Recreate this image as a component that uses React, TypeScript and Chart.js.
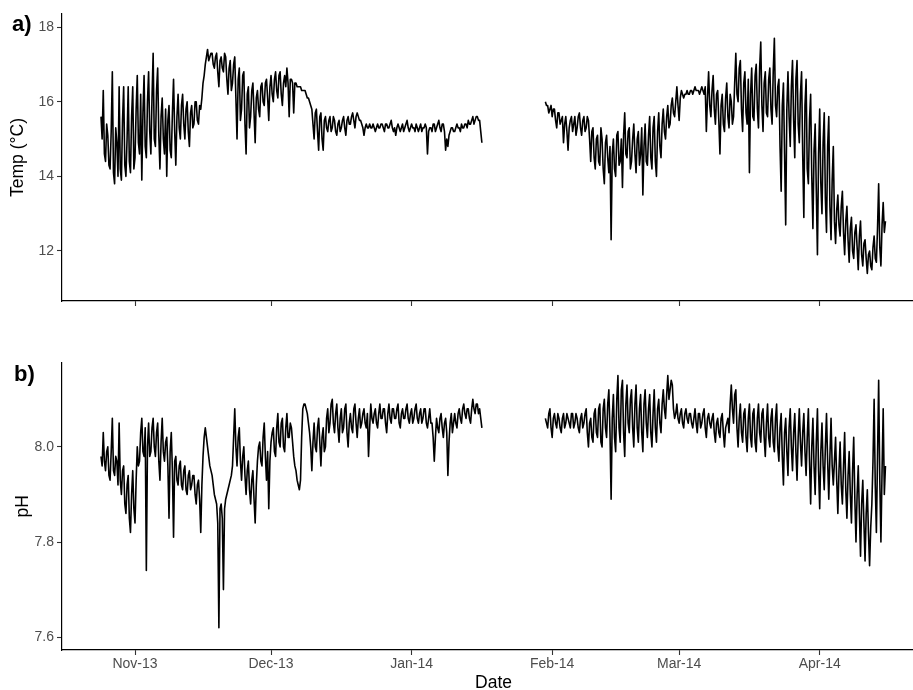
import React, { useEffect, useRef } from "react";
import { Chart, registerables } from "chart.js";

Chart.register(...registerables);

// ---------- data ----------
const SAMPLE_HOURS = 6;
const ORIGIN = Date.UTC(2013, 10, 1);
const SEG1_START = Date.UTC(2013, 9, 24, 12);
const SEG2_START = Date.UTC(2014, 0, 30, 12);

const MONTH_TICKS = [
  Date.UTC(2013, 10, 1),
  Date.UTC(2013, 11, 1),
  Date.UTC(2014, 0, 1),
  Date.UTC(2014, 1, 1),
  Date.UTC(2014, 2, 1),
  Date.UTC(2014, 3, 1),
];
const MONTH_LABELS = ["Nov-13", "Dec-13", "Jan-14", "Feb-14", "Mar-14", "Apr-14"];
const TEMP_TICKS = [12, 14, 16, 18];
const PH_TICKS = [7.6, 7.8, 8.0];

const TEMP_SEG1 = [
  15.6,15.0,16.3,14.6,14.4,15.4,15.1,14.3,14.2,15.2,16.8,14.1,13.8,15.3,14.9,14.0,16.4,14.2,13.9,15.5,
  16.4,14.3,14.0,15.0,16.4,14.4,14.1,15.6,16.4,14.2,14.5,15.8,16.7,14.9,14.6,16.2,13.9,15.7,16.7,14.8,
  14.5,16.0,16.8,15.2,14.6,16.1,17.3,15.0,14.8,16.3,16.9,15.1,14.2,15.6,16.1,15.0,14.6,15.8,14.0,15.5,
  15.9,14.7,14.5,15.7,16.6,15.2,14.3,15.6,16.2,15.3,15.0,15.9,16.2,15.4,15.0,15.8,16.0,15.2,14.8,15.7,
  15.9,15.3,15.4,16.0,16.0,15.5,15.4,15.9,15.8,16.1,16.5,16.7,17.0,17.2,17.4,17.1,17.2,17.3,17.3,17.0,
  16.9,17.2,17.3,16.8,16.4,17.1,17.2,16.9,16.8,17.3,17.2,16.6,16.2,16.9,17.1,16.3,16.5,17.0,17.2,16.1,
  15.0,16.6,16.9,15.5,15.8,16.7,16.8,15.4,14.6,16.2,16.4,15.3,15.6,16.3,16.5,15.7,14.9,16.1,16.3,15.8,
  15.6,16.4,16.5,16.0,15.9,16.5,16.6,16.1,15.5,16.4,16.7,16.2,16.0,16.6,16.8,16.3,16.1,16.7,16.8,16.2,
  15.9,16.5,16.7,16.4,16.9,16.5,15.6,16.6,16.6,16.5,15.7,16.5,16.5,16.4,16.4,16.4,16.4,16.3,16.3,16.3,
  16.3,16.2,16.1,16.1,16.0,15.9,15.8,15.4,15.0,15.7,15.8,15.2,14.7,15.6,15.7,15.0,14.7,15.5,15.6,15.3,
  15.2,15.5,15.6,15.2,15.3,15.6,15.5,15.2,15.1,15.4,15.5,15.2,15.3,15.5,15.6,15.3,15.1,15.5,15.6,15.4,
  15.4,15.6,15.7,15.5,15.3,15.6,15.7,15.6,15.5,15.5,15.4,15.3,15.1,15.3,15.4,15.3,15.3,15.4,15.3,15.3,
  15.4,15.3,15.2,15.3,15.4,15.3,15.3,15.4,15.4,15.3,15.2,15.4,15.4,15.3,15.3,15.4,15.5,15.3,15.2,15.3,
  15.1,15.3,15.4,15.3,15.2,15.3,15.4,15.2,15.3,15.4,15.5,15.3,15.2,15.3,15.4,15.3,15.3,15.2,15.4,15.3,
  15.2,15.3,15.4,15.2,15.3,15.3,15.4,15.3,14.6,15.2,15.3,15.3,15.2,15.4,15.4,15.2,15.3,15.4,15.5,15.3,
  15.2,15.4,15.4,15.2,14.7,15.0,14.8,15.1,15.2,15.3,15.3,15.2,15.2,15.3,15.4,15.3,15.3,15.2,15.4,15.3,
  15.3,15.4,15.4,15.3,15.5,15.4,15.4,15.5,15.6,15.4,15.5,15.6,15.6,15.5,15.5,15.2,14.9,
];

const TEMP_SEG2 = [
  16.0,15.9,15.9,15.7,15.8,15.9,15.6,15.8,15.8,15.5,15.3,15.7,15.7,15.4,15.5,15.6,14.9,15.4,15.6,15.2,
  14.7,15.3,15.5,15.6,15.2,15.4,15.6,15.1,15.3,15.6,15.7,15.3,15.1,15.5,15.6,15.2,15.3,15.6,15.5,15.0,
  14.4,15.2,15.3,14.5,14.2,15.0,15.1,14.4,14.3,15.3,15.0,14.2,13.8,14.9,15.1,14.5,14.1,14.8,12.3,14.6,
  15.0,14.2,14.0,15.1,15.2,14.3,14.4,15.0,13.7,15.1,15.7,14.6,14.5,15.2,15.3,14.2,14.4,15.0,15.4,14.6,
  14.1,15.0,15.2,14.3,14.6,15.3,13.5,14.8,15.4,14.4,14.3,15.1,15.6,14.5,14.2,15.3,15.6,14.4,14.0,15.2,
  15.7,14.8,14.5,15.4,15.8,15.2,15.0,15.6,15.9,15.3,15.4,15.9,16.1,15.7,15.6,16.0,16.4,15.9,15.5,16.1,
  16.3,16.2,16.1,16.2,16.2,16.3,16.2,16.2,16.3,16.3,16.2,16.3,16.4,16.3,16.3,16.3,16.2,16.3,16.4,16.3,
  16.2,16.4,15.2,16.1,16.8,15.9,15.6,16.3,16.7,15.8,15.4,16.2,16.3,15.5,14.6,15.9,16.2,15.4,15.2,16.1,
  16.5,15.6,15.3,16.2,16.0,15.4,15.6,16.5,17.3,16.2,16.0,16.9,17.1,15.8,15.2,16.5,16.8,15.7,15.4,16.6,
  14.1,16.2,16.9,15.6,15.5,16.7,17.0,15.8,15.3,16.9,17.6,15.9,15.2,16.5,16.8,15.7,15.6,16.6,16.9,15.8,
  15.4,16.8,17.7,15.9,15.6,16.4,16.6,14.8,13.6,15.9,16.5,14.6,12.7,15.8,16.8,15.6,14.8,16.4,17.1,15.5,
  14.5,16.6,17.1,15.4,14.9,16.2,16.8,14.6,12.9,15.9,16.6,14.2,13.8,15.5,16.2,14.0,12.6,14.7,15.4,13.6,
  11.9,14.6,15.8,13.8,13.0,14.9,15.7,13.4,12.5,14.8,15.6,13.2,12.3,13.9,14.8,12.8,12.2,13.1,13.5,12.7,
  12.4,13.2,13.6,12.5,11.9,12.8,13.2,12.3,11.7,12.6,12.9,12.0,11.8,12.5,12.7,12.1,11.5,12.4,12.8,11.9,
  11.6,12.2,12.3,11.8,11.4,11.9,12.0,11.6,11.5,12.1,12.4,11.8,11.7,12.6,13.8,12.1,11.6,12.7,13.3,12.5,
  12.8,
];

const PH_SEG1 = [
  7.98,7.96,8.03,7.97,7.95,7.99,8.00,7.94,7.93,7.99,8.06,7.95,7.94,7.98,7.97,7.92,8.05,7.93,7.90,7.95,
  7.96,7.88,7.86,7.92,7.94,7.85,7.82,7.90,7.95,7.87,7.84,7.93,8.00,7.96,7.97,8.03,8.06,7.99,7.98,8.04,
  7.74,8.00,8.05,7.98,7.99,8.04,8.06,8.00,7.98,8.03,8.05,7.97,7.93,8.01,8.06,7.99,7.97,8.01,8.02,7.96,
  7.85,7.99,8.03,7.95,7.81,7.97,7.98,7.93,7.92,7.96,7.97,7.92,7.91,7.95,7.96,7.91,7.90,7.94,7.95,7.91,
  7.92,7.94,7.94,7.90,7.88,7.92,7.93,7.89,7.82,7.92,7.98,8.02,8.04,8.02,8.00,7.98,7.96,7.95,7.94,7.92,
  7.90,7.89,7.88,7.84,7.62,7.87,7.88,7.85,7.70,7.87,7.89,7.90,7.91,7.92,7.93,7.94,7.96,8.02,8.08,8.00,
  7.96,8.02,8.04,7.97,7.93,7.98,8.00,7.94,7.90,7.95,7.97,7.91,7.88,7.93,7.95,7.89,7.84,7.92,7.97,8.00,
  8.01,7.97,7.96,8.02,8.05,7.98,7.93,7.99,7.87,7.97,8.01,8.03,8.04,7.99,7.98,8.04,8.07,8.01,8.00,8.05,
  8.06,8.00,7.99,8.04,8.07,8.02,8.02,8.05,8.04,8.01,7.98,7.96,7.95,7.93,7.92,7.91,7.93,8.02,8.08,8.09,
  8.09,8.08,8.07,8.05,8.03,8.00,7.95,8.01,8.05,8.00,7.99,8.04,8.06,8.01,7.96,8.02,8.04,7.99,8.00,8.06,
  8.08,8.03,8.05,8.09,8.10,8.05,8.03,8.07,8.09,8.04,8.01,8.06,8.08,8.03,8.04,8.08,8.09,8.03,8.00,8.05,
  8.07,8.04,8.03,8.08,8.09,8.05,8.02,8.06,8.08,8.04,8.05,8.07,8.08,8.05,8.04,8.07,7.98,8.04,8.09,8.06,
  8.05,8.07,8.08,8.05,8.04,8.07,8.09,8.06,8.06,8.08,8.08,8.05,8.03,8.07,8.09,8.06,8.05,8.08,8.08,8.06,
  8.06,8.08,8.09,8.05,8.04,8.07,8.08,8.06,8.06,8.08,8.09,8.06,8.05,8.07,8.08,8.05,8.06,8.08,8.09,8.06,
  8.05,8.07,8.08,8.05,8.06,8.08,8.08,8.05,8.04,8.06,8.08,8.05,8.05,8.02,7.97,8.02,8.06,8.04,8.03,8.06,
  8.07,8.04,8.02,8.05,8.06,8.03,7.94,8.01,8.05,8.07,8.03,8.05,8.07,8.05,8.04,8.07,8.08,8.06,8.05,8.08,
  8.09,8.07,8.06,8.08,8.08,8.06,8.05,8.08,8.10,8.08,8.07,8.09,8.09,8.07,8.08,8.06,8.04,
];

const PH_SEG2 = [
  8.06,8.05,8.04,8.07,8.08,8.04,8.02,8.06,8.07,8.05,8.04,8.07,8.06,8.04,8.03,8.06,8.07,8.04,8.05,8.07,
  8.06,8.05,8.04,8.07,8.07,8.04,8.05,8.07,8.06,8.04,8.03,8.06,8.07,8.04,8.05,8.07,8.08,8.03,8.00,8.05,
  8.06,8.02,8.01,8.07,8.08,8.03,8.02,8.08,8.09,8.01,8.00,8.08,8.10,8.04,8.02,8.09,8.12,8.03,7.89,8.06,
  8.11,8.02,7.99,8.10,8.15,8.04,8.01,8.12,8.14,8.03,7.98,8.09,8.13,8.05,8.03,8.10,8.12,8.04,8.00,8.09,
  8.13,8.04,8.01,8.08,8.11,8.03,7.99,8.09,8.12,8.05,8.02,8.08,8.11,8.03,8.00,8.07,8.12,8.04,8.01,8.08,
  8.10,8.05,8.03,8.09,8.12,8.08,8.06,8.11,8.15,8.10,8.12,8.14,8.13,8.08,8.06,8.07,8.09,8.06,8.05,8.07,
  8.08,8.05,8.04,8.07,8.08,8.06,8.05,8.07,8.07,8.05,8.04,8.06,8.08,8.05,8.03,8.07,8.07,8.04,8.05,8.07,
  8.08,8.04,8.02,8.06,8.07,8.05,8.04,8.06,8.07,8.03,8.01,8.05,8.06,8.03,8.02,8.06,8.07,8.03,8.00,8.04,
  8.05,8.06,8.03,8.09,8.13,8.08,8.05,8.11,8.12,8.04,8.00,8.06,8.09,8.03,8.01,8.07,8.08,8.02,7.99,8.06,
  8.09,8.02,8.00,8.07,8.08,8.01,7.99,8.06,8.09,8.03,8.01,8.07,8.08,8.02,7.98,8.05,8.09,8.02,8.00,8.06,
  8.08,8.01,7.99,8.06,8.09,8.00,7.97,8.04,8.07,7.98,7.92,8.03,8.06,7.99,7.94,8.04,8.08,8.00,7.95,8.03,
  8.07,7.99,7.93,8.02,8.08,8.01,7.96,8.03,8.07,7.99,7.94,8.02,8.08,7.97,7.88,8.00,8.06,7.96,7.90,8.01,
  8.08,7.95,7.87,7.99,8.05,7.96,7.91,8.00,8.07,7.97,7.89,7.98,8.06,7.96,7.92,7.97,8.02,7.93,7.86,7.95,
  8.01,7.92,7.88,7.96,8.03,7.91,7.85,7.94,7.99,7.90,7.84,7.95,8.02,7.89,7.80,7.90,7.96,7.86,7.77,7.88,
  7.93,7.84,7.76,7.86,7.91,7.82,7.75,7.83,7.88,7.97,8.10,7.92,7.82,7.98,8.14,7.93,7.80,7.95,8.08,7.90,
  7.96,
];

// ---------- helpers ----------
const DAY_MS = 86400000;
const toDay = (t: number) => (t - ORIGIN) / DAY_MS;

function buildSeries(seg1: number[], seg2: number[]) {
  const pts: { x: number; y: number | null }[] = [];
  const step = SAMPLE_HOURS * 3600000;
  seg1.forEach((v, i) => pts.push({ x: toDay(SEG1_START + i * step), y: v }));
  const gapX = (toDay(SEG1_START + (seg1.length - 1) * step) + toDay(SEG2_START)) / 2;
  pts.push({ x: gapX, y: null });
  seg2.forEach((v, i) => pts.push({ x: toDay(SEG2_START + i * step), y: v }));
  return pts;
}

const FONT = '"Liberation Sans", Arial, Helvetica, sans-serif';
const X_MIN = -16.1;
const X_MAX = 174.22;

const panelTag = {
  id: "panelTag",
  afterDraw(chart: any, _args: any, opts: any) {
    const ctx = chart.ctx;
    ctx.save();
    ctx.font = `bold ${opts.size}px ${FONT}`;
    ctx.fillStyle = "#000";
    ctx.textBaseline = "alphabetic";
    ctx.textAlign = "left";
    ctx.fillText(opts.text, opts.x, opts.y);
    ctx.restore();
  },
};

function makeConfig(p: {
  data: { x: number; y: number | null }[];
  yMin: number;
  yMax: number;
  yTicks: number[];
  yFmt: (v: number) => string;
  yTitle: string;
  yTitlePad: number;
  padTop: number;
  xHeight: number;
  showXLabels: boolean;
  tag: string;
  tagX: number;
  tagY: number;
}) {
  return {
    type: "line",
    data: {
      datasets: [
        {
          data: p.data,
          borderColor: "#000000",
          borderWidth: 1.6,
          pointRadius: 0,
          pointHoverRadius: 0,
          tension: 0,
          fill: false,
          spanGaps: false,
          borderJoinStyle: "round",
        },
      ],
    },
    options: {
      animation: false,
      responsive: false,
      maintainAspectRatio: false,
      events: [],
      layout: { padding: { top: p.padTop, left: 0, right: 0, bottom: 0 } },
      plugins: {
        legend: { display: false },
        tooltip: { enabled: false },
        panelTag: { text: p.tag, x: p.tagX, y: p.tagY, size: 22 },
      },
      scales: {
        x: {
          type: "linear",
          min: X_MIN,
          max: X_MAX,
          afterBuildTicks: (s: any) => {
            s.ticks = MONTH_TICKS.map((t) => ({ value: toDay(t) }));
          },
          afterFit: (s: any) => {
            s.height = p.xHeight;
          },
          ticks: {
            display: p.showXLabels,
            autoSkip: false,
            maxRotation: 0,
            padding: 1,
            color: "#4d4d4d",
            font: { family: FONT, size: 14 },
            callback: (v: number) => {
              const idx = MONTH_TICKS.findIndex((t) => Math.abs(toDay(t) - v) < 1e-6);
              return idx >= 0 ? MONTH_LABELS[idx] : "";
            },
          },
          grid: {
            drawOnChartArea: false,
            drawTicks: true,
            tickLength: 5,
            tickColor: "#333333",
            tickWidth: 1.1,
          },
          border: { display: true, color: "#000000", width: 1.2 },
          title: {
            display: p.showXLabels,
            text: "Date",
            color: "#000000",
            font: { family: FONT, size: 17.5 },
            padding: { top: 0, bottom: 6.5 },
          },
        },
        y: {
          type: "linear",
          min: p.yMin,
          max: p.yMax,
          afterBuildTicks: (s: any) => {
            s.ticks = p.yTicks.map((v) => ({ value: v }));
          },
          afterFit: (s: any) => {
            s.width = 62;
          },
          ticks: {
            padding: 3,
            color: "#4d4d4d",
            font: { family: FONT, size: 14 },
            callback: (v: number) => p.yFmt(v),
          },
          grid: {
            drawOnChartArea: false,
            drawTicks: true,
            tickLength: 5,
            tickColor: "#333333",
            tickWidth: 1.1,
          },
          border: { display: true, color: "#000000", width: 1.2 },
          title: {
            display: true,
            text: p.yTitle,
            color: "#000000",
            font: { family: FONT, size: 17.5 },
            padding: { top: p.yTitlePad, bottom: 0 },
          },
        },
      },
    },
    plugins: [panelTag],
  };
}

export default function App() {
  const topRef = useRef<HTMLCanvasElement | null>(null);
  const botRef = useRef<HTMLCanvasElement | null>(null);

  useEffect(() => {
    document.body.style.margin = "0";
    const tempData = buildSeries(TEMP_SEG1, TEMP_SEG2);
    const phData = buildSeries(PH_SEG1, PH_SEG2);
    const c1 = new Chart(
      topRef.current as HTMLCanvasElement,
      makeConfig({
        data: tempData,
        yMin: 10.66,
        yMax: 18.35,
        yTicks: TEMP_TICKS,
        yFmt: (v) => String(v),
        yTitle: "Temp (°C)",
        yTitlePad: 7.8,
        padTop: 14,
        xHeight: 19,
        showXLabels: false,
        tag: "a)",
        tagX: 12,
        tagY: 31,
      }) as any
    );
    const c2 = new Chart(
      botRef.current as HTMLCanvasElement,
      makeConfig({
        data: phData,
        yMin: 7.573,
        yMax: 8.177,
        yTicks: PH_TICKS,
        yFmt: (v) => v.toFixed(1),
        yTitle: "pH",
        yTitlePad: 12.6,
        padTop: 32.7,
        xHeight: 50,
        showXLabels: true,
        tag: "b)",
        tagX: 14,
        tagY: 51,
      }) as any
    );
    return () => {
      c1.destroy();
      c2.destroy();
    };
  }, []);

  return (
    <div
      style={{
        position: "absolute",
        left: 0,
        top: 0,
        width: 913,
        height: 690,
        overflow: "hidden",
        background: "#ffffff",
      }}
    >
      <canvas
        ref={topRef}
        width={925}
        height={320}
        style={{ position: "absolute", left: 0, top: 0, width: 925, height: 320 }}
      />
      <canvas
        ref={botRef}
        width={925}
        height={370}
        style={{ position: "absolute", left: 0, top: 330, width: 925, height: 370 }}
      />
    </div>
  );
}
